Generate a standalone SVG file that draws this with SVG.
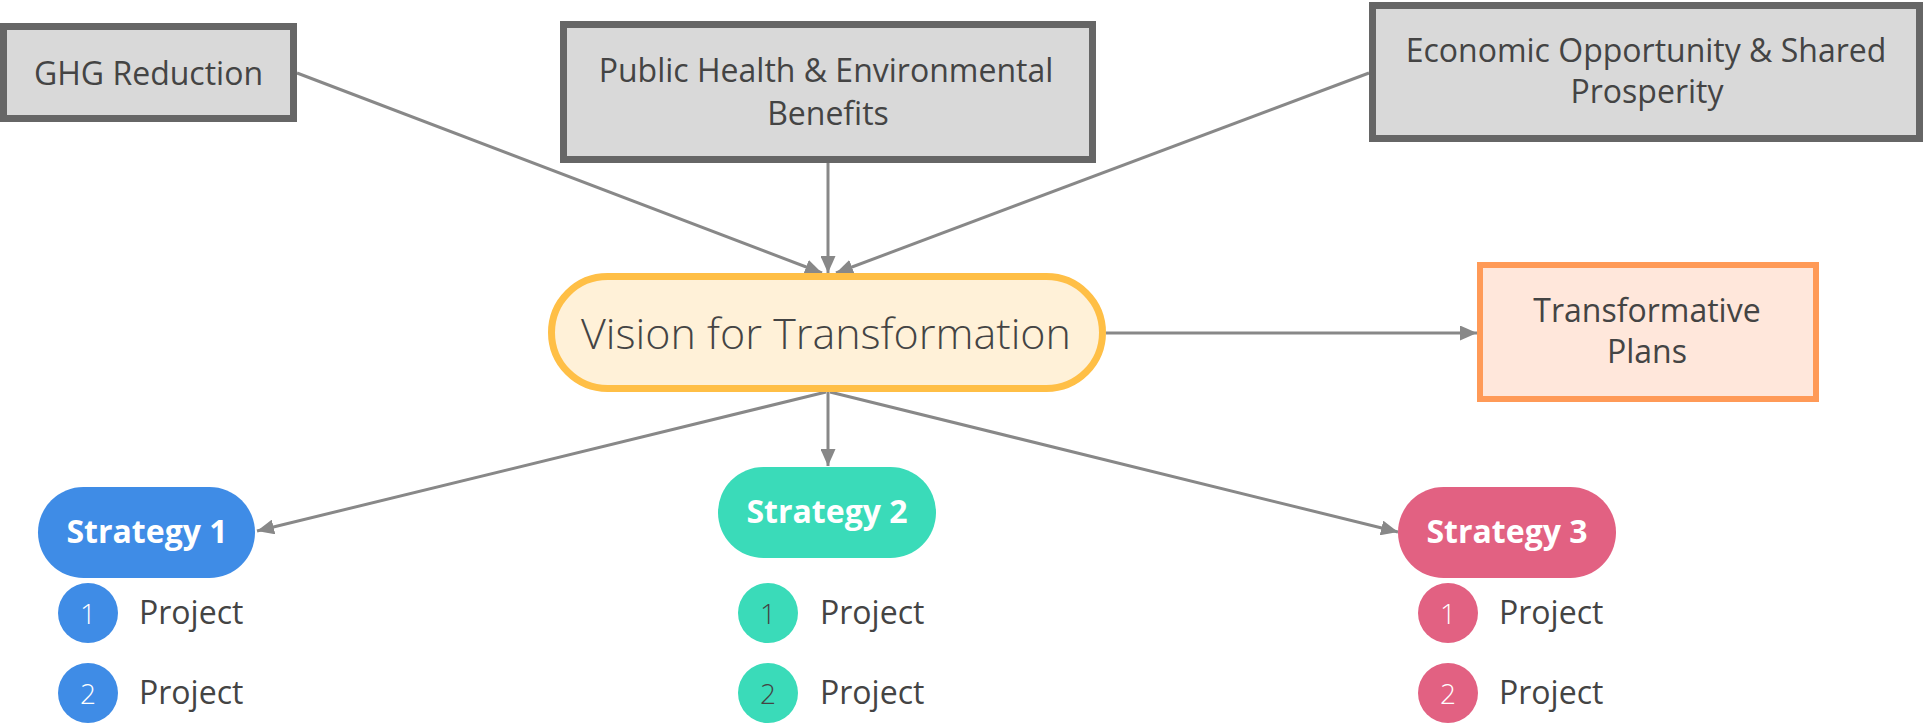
<svg xmlns="http://www.w3.org/2000/svg" width="1926" height="724" viewBox="0 0 1926 724">
<style>
text{font-family:"Open Sans","Noto Sans","Liberation Sans",sans-serif;fill:#444444}
.goal rect{fill:#D9D9D9;stroke:#666666;stroke-width:7}
.lbl{font-size:32px;text-anchor:middle}
.conn{stroke:#888888;stroke-width:3;fill:none}
.strat{font-size:32px;font-weight:700;fill:#FFFFFF;text-anchor:middle}
.num{font-size:28px;font-weight:300;text-anchor:middle;fill:#FFFFFF}
.proj{font-size:32px}
.blue{fill:#3F8CE6}.teal{fill:#3ADBB9}.pink{fill:#E26182}
</style>
<defs>
<marker id="arr" markerUnits="userSpaceOnUse" markerWidth="17" markerHeight="15" refX="17" refY="7.5" orient="auto">
<path d="M0,0 L17,7.5 L0,15 Z" fill="#888888"/>
</marker>
</defs>
<g id="connectors">
<line class="conn" x1="297" y1="73" x2="822" y2="273" marker-end="url(#arr)"/>
<line class="conn" x1="828" y1="163" x2="828" y2="273" marker-end="url(#arr)"/>
<line class="conn" x1="1369" y1="73" x2="836" y2="273" marker-end="url(#arr)"/>
<line class="conn" x1="1106" y1="333" x2="1477" y2="333" marker-end="url(#arr)"/>
<line class="conn" x1="826" y1="392" x2="257" y2="531" marker-end="url(#arr)"/>
<line class="conn" x1="828" y1="392" x2="828" y2="466" marker-end="url(#arr)"/>
<line class="conn" x1="830" y1="392" x2="1398" y2="532" marker-end="url(#arr)"/>
</g>
<g id="ghg" class="goal">
<rect x="3.5" y="26.5" width="290" height="92"/>
<text class="lbl" x="148.5" y="85">GHG Reduction</text>
</g>
<g id="public-health" class="goal">
<rect x="563.5" y="24.5" width="529" height="135"/>
<text class="lbl" x="826" y="82">Public Health &amp; Environmental</text>
<text class="lbl" x="828" y="125">Benefits</text>
</g>
<g id="economic" class="goal">
<rect x="1372.5" y="5.5" width="547" height="133"/>
<text class="lbl" x="1646" y="62">Economic Opportunity &amp; Shared</text>
<text class="lbl" x="1647" y="103">Prosperity</text>
</g>
<g id="vision">
<rect x="551.5" y="276.5" width="551" height="112" rx="56" fill="#FFF1D8" stroke="#FFBF46" stroke-width="7"/>
<text x="826" y="349" style="font-size:43px;font-weight:300;text-anchor:middle">Vision for Transformation</text>
</g>
<g id="transformative-plans">
<rect x="1480" y="265" width="336" height="134" fill="#FFE7DB" stroke="#FF9A57" stroke-width="6"/>
<text class="lbl" x="1647" y="322">Transformative</text>
<text class="lbl" x="1647" y="363">Plans</text>
</g>
<g id="strategy1">
<rect class="blue" x="38" y="487" width="217" height="91" rx="45.5"/>
<text class="strat" x="147" y="543">Strategy 1</text>
</g>
<g id="s1-project1">
<circle class="blue" cx="88" cy="613" r="30"/>
<text class="num" x="88" y="624">1</text>
<text class="proj" x="139" y="624">Project</text>
</g>
<g id="s1-project2">
<circle class="blue" cx="88" cy="693" r="30"/>
<text class="num" x="88" y="704">2</text>
<text class="proj" x="139" y="704">Project</text>
</g>
<g id="strategy2">
<rect class="teal" x="718" y="467" width="218" height="91" rx="45.5"/>
<text class="strat" x="827" y="523">Strategy 2</text>
</g>
<g id="s2-project1">
<circle class="teal" cx="768" cy="613" r="30"/>
<text class="num" x="768" y="624" style="fill:#444444">1</text>
<text class="proj" x="820" y="624">Project</text>
</g>
<g id="s2-project2">
<circle class="teal" cx="768" cy="693" r="30"/>
<text class="num" x="768" y="704" style="fill:#444444">2</text>
<text class="proj" x="820" y="704">Project</text>
</g>
<g id="strategy3">
<rect class="pink" x="1398" y="487" width="218" height="91" rx="45.5"/>
<text class="strat" x="1507" y="543">Strategy 3</text>
</g>
<g id="s3-project1">
<circle class="pink" cx="1448" cy="613" r="30"/>
<text class="num" x="1448" y="624">1</text>
<text class="proj" x="1499" y="624">Project</text>
</g>
<g id="s3-project2">
<circle class="pink" cx="1448" cy="693" r="30"/>
<text class="num" x="1448" y="704">2</text>
<text class="proj" x="1499" y="704">Project</text>
</g>
</svg>
